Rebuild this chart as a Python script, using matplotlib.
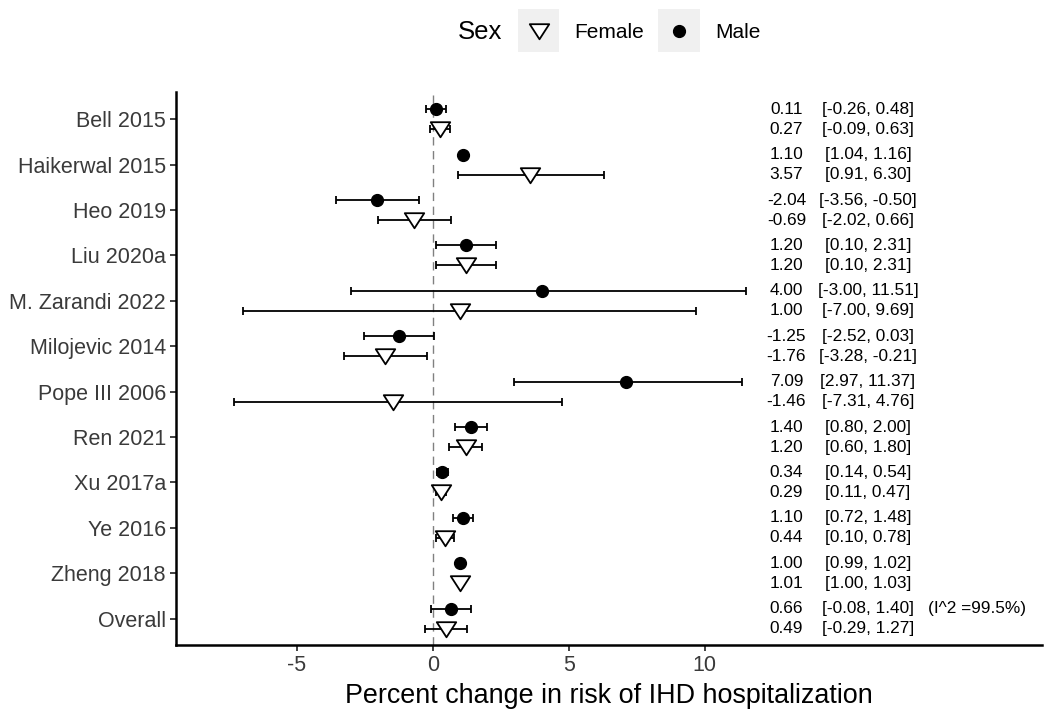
import matplotlib
matplotlib.use("Agg")
import matplotlib.pyplot as plt
from matplotlib.patches import Rectangle
from matplotlib.lines import Line2D
from matplotlib.path import Path
import numpy as np

plt.rcParams['font.family'] = ['Liberation Sans', 'DejaVu Sans']

studies = ["Bell 2015", "Haikerwal 2015", "Heo 2019", "Liu 2020a", "M. Zarandi 2022",
           "Milojevic 2014", "Pope III 2006", "Ren 2021", "Xu 2017a", "Ye 2016",
           "Zheng 2018", "Overall"]

male_est = [0.11, 1.10, -2.04, 1.20, 4.00, -1.25, 7.09, 1.40, 0.34, 1.10, 1.00, 0.66]
male_lo = [-0.26, 1.04, -3.56, 0.10, -3.00, -2.52, 2.97, 0.80, 0.14, 0.72, 0.99, -0.08]
male_hi = [0.48, 1.16, -0.50, 2.31, 11.51, 0.03, 11.37, 2.00, 0.54, 1.48, 1.02, 1.40]

female_est = [0.27, 3.57, -0.69, 1.20, 1.00, -1.76, -1.46, 1.20, 0.29, 0.44, 1.01, 0.49]
female_lo = [-0.09, 0.91, -2.02, 0.10, -7.00, -3.28, -7.31, 0.60, 0.11, 0.10, 1.00, -0.29]
female_hi = [0.63, 6.30, 0.66, 2.31, 9.69, -0.21, 4.76, 1.80, 0.47, 0.78, 1.03, 1.27]

heterogeneity = "(I^2 =99.5%)"
xticks = [-5, 0, 5, 10]
xlabel = "Percent change in risk of IHD hospitalization"

W, H = 1050, 717
fig = plt.figure(figsize=(W / 100, H / 100), dpi=100)
ax = fig.add_axes([176 / W, 1 - 645 / H, (1042 - 176) / W, (645 - 92) / H])

y = np.arange(len(studies))
dodge = 0.22
tri = Path([(-1, 0.75), (1, 0.75), (0, -0.8), (-1, 0.75)], closed=True)

ax.axvline(0, color='#808080', lw=1.0, ls=(0, (6, 4)), zorder=1)

ym = y - dodge
yf = y + dodge
m_est = np.array(male_est); f_est = np.array(female_est)
ax.errorbar(m_est, ym, xerr=[m_est - np.array(male_lo), np.array(male_hi) - m_est],
            fmt='none', ecolor='black', elinewidth=1.3, capsize=3.2, capthick=1.3, zorder=2)
ax.errorbar(f_est, yf, xerr=[f_est - np.array(female_lo), np.array(female_hi) - f_est],
            fmt='none', ecolor='black', elinewidth=1.3, capsize=3.2, capthick=1.3, zorder=2)
ax.plot(m_est, ym, 'o', color='black', ms=8.5, ls='none', zorder=3)
ax.plot(f_est, yf, marker=tri, mfc='white', mec='black', mew=1.3, ms=14, ls='none', zorder=3)

for i in range(len(studies)):
    ax.text(13, ym[i], f"{male_est[i]:.2f}", ha='center', va='center', fontsize=12.4, color='black')
    ax.text(16, ym[i], f"[{male_lo[i]:.2f}, {male_hi[i]:.2f}]", ha='center', va='center', fontsize=12.4, color='black')
    ax.text(13, yf[i], f"{female_est[i]:.2f}", ha='center', va='center', fontsize=12.4, color='black')
    ax.text(16, yf[i], f"[{female_lo[i]:.2f}, {female_hi[i]:.2f}]", ha='center', va='center', fontsize=12.4, color='black')
ax.text(20, ym[-1], heterogeneity, ha='center', va='center', fontsize=12.4, color='black')

ax.set_xlim(-9.45, 22.4)
ax.set_ylim(len(studies) - 1 + 0.58, -0.6)
ax.set_yticks(y)
ax.set_yticklabels(studies)
ax.set_xticks(xticks)
ax.set_xticklabels([str(t) for t in xticks])
for s in ['top', 'right']:
    ax.spines[s].set_visible(False)
for s in ['left', 'bottom']:
    ax.spines[s].set_linewidth(1.8)
ax.tick_params(axis='both', length=4.3, width=1.3, color='#333333', labelsize=15.5, labelcolor='#3a3a3a', pad=3)
ax.set_xlabel(xlabel, fontsize=19.4, labelpad=5)

# legend (top)
fig.text(480 / W, 1 - 32 / H, "Sex", fontsize=18.5, ha='center', va='center')
for (x0, x1) in [(518, 559), (658, 700)]:
    fig.add_artist(Rectangle((x0 / W, 1 - 52 / H), (x1 - x0) / W, 43 / H,
                             transform=fig.transFigure, facecolor='#F0F0F0', edgecolor='none'))
fig.add_artist(Line2D([538.5 / W], [1 - 31 / H], marker=tri, mfc='white', mec='black', mew=1.3,
                      ms=14, ls='none', transform=fig.transFigure))
fig.add_artist(Line2D([679 / W], [1 - 31 / H], marker='o', color='black', ms=8.5, ls='none',
                      transform=fig.transFigure))
fig.text(574 / W, 1 - 32 / H, "Female", fontsize=15, ha='left', va='center')
fig.text(715 / W, 1 - 32 / H, "Male", fontsize=15, ha='left', va='center')

fig.savefig("out.png", dpi=100)
